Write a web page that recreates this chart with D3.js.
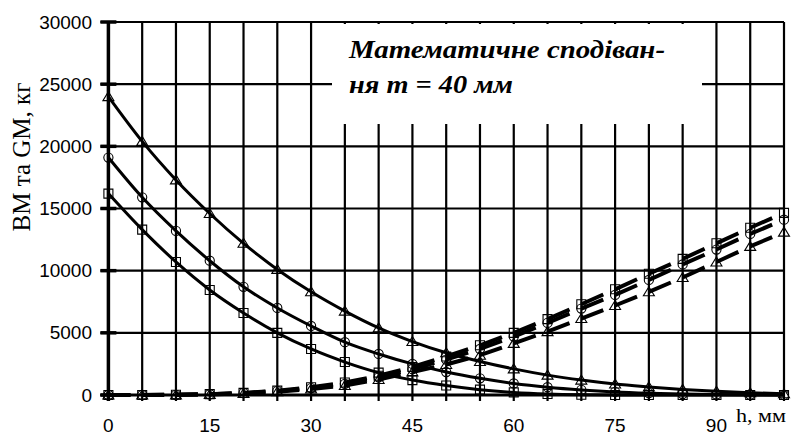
<!DOCTYPE html>
<html>
<head>
<meta charset="utf-8">
<script src="https://cdn.jsdelivr.net/npm/d3@7"></script>
<style>
  html, body { margin: 0; padding: 0; background: #fff; }
  svg { display: block; }
</style>
</head>
<body>
<div id="chart"></div>
<script>
const WIDTH  = 791;
const HEIGHT = 438;

// h, mm (markers every 5 mm)
const hValues = [0, 5, 10, 15, 20, 25, 30, 35, 40, 45, 50, 55, 60, 65, 70, 75, 80, 85, 90, 95, 100];

// BM, decreasing curves (solid)
const bmTriangle = [24000, 20400, 17300, 14600, 12200, 10100, 8300, 6750, 5400, 4300, 3400, 2700, 2100, 1600, 1200, 880, 650, 450, 300, 180, 100];
const bmCircle   = [19100, 15900, 13200, 10800, 8700, 7000, 5550, 4250, 3300, 2500, 1850, 1340, 930, 630, 410, 250, 150, 80, 40, 15, 5];
const bmSquare   = [16200, 13300, 10700, 8450, 6600, 5000, 3700, 2650, 1800, 1200, 760, 430, 210, 85, 25, 5, 0, 0, 0, 0, 0];

// GM, increasing curves (dashed)
const gmSquare   = [0, 5, 20, 70, 170, 350, 620, 1000, 1550, 2250, 3100, 4000, 5000, 6100, 7300, 8500, 9750, 10950, 12200, 13450, 14650];
const gmCircle   = [0, 4, 16, 60, 150, 310, 560, 900, 1420, 2080, 2850, 3700, 4700, 5800, 6950, 8050, 9250, 10500, 11700, 12950, 14100];
const gmTriangle = [0, 3, 12, 45, 120, 260, 480, 760, 1250, 1850, 2450, 3200, 4150, 5100, 6150, 7200, 8300, 9450, 10700, 11950, 13100];

const xTicks = [0, 15, 30, 45, 60, 75, 90];
const yTicks = [0, 5000, 10000, 15000, 20000, 25000, 30000];

const solidSeries = [
  { values: bmTriangle, marker: "triangle" },
  { values: bmCircle,   marker: "circle" },
  { values: bmSquare,   marker: "square" }
];
const dashedSeries = [
  { values: gmSquare,   marker: "square" },
  { values: gmCircle,   marker: "circle" },
  { values: gmTriangle, marker: "triangle" }
];

const x = d3.scaleLinear().domain([0, 100]).range([108.4, 784]);
const y = d3.scaleLinear().domain([0, 30000]).range([395, 22]);

const svg = d3.select("#chart").append("svg")
  .attr("width", WIDTH)
  .attr("height", HEIGHT);

// grid
const grid = svg.append("g");
grid.selectAll("line.v")
  .data(d3.range(0, 101, 5))
  .join("line")
  .attr("x1", d => x(d)).attr("x2", d => x(d))
  .attr("y1", y(30000)).attr("y2", y(0) + 6)
  .attr("stroke", "#000")
  .attr("stroke-width", 2.2);
grid.selectAll("line.h")
  .data(yTicks)
  .join("line")
  .attr("x1", x(0) - 8).attr("x2", x(100))
  .attr("y1", d => y(d)).attr("y2", d => y(d))
  .attr("stroke", "#000")
  .attr("stroke-width", 2.2);

// y tick marks (thicker stubs)
grid.selectAll("line.yt")
  .data(yTicks)
  .join("line")
  .attr("x1", x(0) - 8).attr("x2", x(0) + 8)
  .attr("y1", d => y(d)).attr("y2", d => y(d))
  .attr("stroke", "#000")
  .attr("stroke-width", 3.5);

// axis lines
svg.append("line")
  .attr("x1", x(0)).attr("x2", x(0))
  .attr("y1", y(30000)).attr("y2", y(0) + 6)
  .attr("stroke", "#000").attr("stroke-width", 3.5);
svg.append("line")
  .attr("x1", x(0) - 8).attr("x2", x(100))
  .attr("y1", y(0)).attr("y2", y(0))
  .attr("stroke", "#000").attr("stroke-width", 3);

// text box
svg.append("rect")
  .attr("x", 332).attr("y", 24)
  .attr("width", 370).attr("height", 100)
  .attr("fill", "#fff");
const title = svg.append("text")
  .attr("font-family", "'Liberation Serif', 'Times New Roman', serif")
  .attr("font-weight", "bold")
  .attr("font-style", "italic")
  .attr("font-size", 25);
title.append("tspan").attr("x", 349).attr("y", 58)
  .attr("textLength", 316).attr("lengthAdjust", "spacingAndGlyphs")
  .text("Математичне сподіван-");
title.append("tspan").attr("x", 349).attr("y", 93)
  .attr("textLength", 164).attr("lengthAdjust", "spacingAndGlyphs")
  .text("ня т = 40 мм");

// tick labels
svg.selectAll("text.yl")
  .data(yTicks)
  .join("text")
  .attr("x", 92)
  .attr("y", d => y(d) + 6.5)
  .attr("text-anchor", "end")
  .attr("font-family", "Arial, 'Liberation Sans', sans-serif")
  .attr("font-size", 19)
  .text(d => d);
svg.selectAll("text.xl")
  .data(xTicks)
  .join("text")
  .attr("x", d => x(d))
  .attr("y", 432)
  .attr("text-anchor", "middle")
  .attr("font-family", "Arial, 'Liberation Sans', sans-serif")
  .attr("font-size", 19)
  .text(d => d);

svg.append("text")
  .attr("x", 736).attr("y", 422)
  .attr("font-family", "'Liberation Serif', 'Times New Roman', serif")
  .attr("font-size", 19)
  .attr("textLength", 50).attr("lengthAdjust", "spacingAndGlyphs")
  .text("h, мм");

svg.append("text")
  .attr("transform", "translate(30,157) rotate(-90)")
  .attr("text-anchor", "middle")
  .attr("font-family", "'Liberation Serif', 'Times New Roman', serif")
  .attr("font-size", 25)
  .text("BM та GM, кг");

// solid BM curves
const line = d3.line()
  .x((d, i) => x(hValues[i]))
  .y(d => y(d))
  .curve(d3.curveMonotoneX);

svg.selectAll("path.bm")
  .data(solidSeries)
  .join("path")
  .attr("d", s => line(s.values))
  .attr("fill", "none")
  .attr("stroke", "#000")
  .attr("stroke-width", 3);

// dashed GM curves: one dash per 5 mm step, starting at each marker
function dashPath(values) {
  let p = "";
  for (let i = 0; i < values.length - 1; i++) {
    const x0 = x(hValues[i]), y0 = y(values[i]);
    const x1 = x(hValues[i + 1]), y1 = y(values[i + 1]);
    const t = 0.65;
    p += `M${x0},${y0}L${x0 + (x1 - x0) * t},${y0 + (y1 - y0) * t}`;
  }
  return p;
}
svg.selectAll("path.gm")
  .data(dashedSeries)
  .join("path")
  .attr("d", s => dashPath(s.values))
  .attr("fill", "none")
  .attr("stroke", "#000")
  .attr("stroke-width", 4);

// markers
const symbolFor = {
  triangle: "M0,-5L5.5,4L-5.5,4Z",
  circle:   d3.symbol(d3.symbolCircle, 66)(),
  square:   "M-4.5,-4.5H4.5V4.5H-4.5Z"
};
[...solidSeries, ...dashedSeries].forEach(s => {
  svg.append("g").selectAll("path")
    .data(s.values)
    .join("path")
    .attr("transform", (d, i) => `translate(${x(hValues[i])},${y(d)})`)
    .attr("d", symbolFor[s.marker])
    .attr("fill", "none")
    .attr("stroke", "#000")
    .attr("stroke-width", 1.1);
});
</script>
</body>
</html>
